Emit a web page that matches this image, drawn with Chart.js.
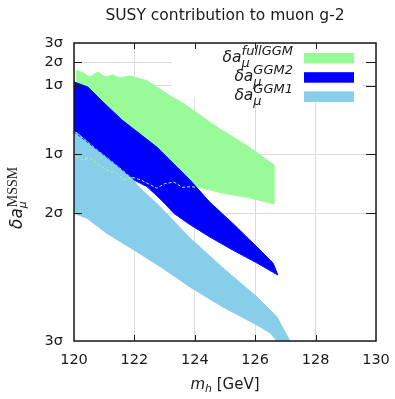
<!DOCTYPE html>
<html lang="en">
<head>
<meta charset="UTF-8">
<title>SUSY contribution to muon g-2</title>
<script src="https://cdn.jsdelivr.net/npm/chart.js"></script>
<style>
    html, body { margin: 0; padding: 0; background: #fff; }
</style>
</head>
<body>
<canvas id="g2Chart" width="395" height="399"></canvas>
<script>
// axes: m_h in GeV, delta a_mu in units of 1e-10 on a log axis (sigma marks at 28 +- k*8)
const mhTicks = [120, 122, 124, 126, 128, 130];
const sigmaTickValues = [4, 12, 20, 36, 44, 52];
const sigmaTickLabels = ['3σ', '2σ', '1σ', '1σ', '2σ', '3σ'];

// fullGGM band
const fullUpperMh = [120.07, 120.3, 120.53, 120.79, 121.03, 121.29, 121.52, 121.85, 122.42, 123.18, 123.6, 124.74, 125.83, 126.65];
const fullUpperDa = [41.2, 40.2, 38.8, 40.5, 38.8, 39.5, 38.5, 39.2, 37.6, 33.0, 31.0, 25.2, 21.1, 18.1];
const fullLowerMh = [120.07, 120.3, 120.56, 120.8, 121.09, 121.4, 121.66, 121.9, 122.22, 122.5, 122.75, 123.0, 123.31, 123.6, 123.87, 124.27, 124.93, 125.83, 126.65];
const fullLowerDa = [19.6, 19.0, 19.3, 18.3, 17.4, 17.0, 16.0, 16.4, 16.0, 15.4, 14.9, 15.5, 15.7, 15.0, 15.1, 14.9, 14.3, 13.7, 13.0];

// GGM2 band
const ggm2UpperMh = [120.0, 120.46, 120.96, 121.59, 122.75, 123.84, 124.5, 125.26, 126.06, 126.59, 126.75];
const ggm2UpperDa = [37.2, 35.6, 31.3, 26.8, 21.2, 16.0, 13.2, 11.0, 8.98, 7.83, 7.06];
const ggm2LowerMh = [120.0, 120.66, 121.32, 121.99, 122.42, 122.88, 123.31, 123.84, 124.5, 125.26, 126.06, 126.75];
const ggm2LowerDa = [24.2, 21.2, 18.5, 16.0, 15.1, 13.5, 12.0, 10.9, 9.79, 8.75, 7.83, 7.06];

// GGM1 band
const ggm1UpperMh = [120.0, 120.1, 120.66, 121.32, 121.99, 122.09, 122.85, 123.84, 124.93, 126.06, 126.72, 127.2];
const ggm1UpperDa = [24.2, 24.0, 21.2, 18.5, 16.0, 15.3, 12.7, 9.71, 7.5, 5.84, 4.92, 3.9];
const ggm1LowerMh = [120.0, 120.43, 121.09, 121.99, 122.88, 123.84, 124.93, 126.06, 126.49, 126.72, 127.2];
const ggm1LowerDa = [12.0, 11.5, 10.1, 8.75, 7.56, 6.37, 5.36, 4.59, 4.29, 4.0, 3.5];

const seriesNames = ['fullGGM', 'GGM2', 'GGM1'];
const seriesColors = ['#98fb98', '#0000ff', '#87ceeb'];

function pts(xs, ys) {
    return xs.map((x, i) => ({ x: x, y: ys[i] }));
}

function band(xs, ys, color, fill, order) {
    return {
        data: pts(xs, ys),
        borderColor: color,
        backgroundColor: color,
        borderWidth: 1,
        pointRadius: 0,
        tension: 0,
        fill: fill,
        order: order
    };
}

function edge(xs, ys, color) {
    return {
        data: pts(xs, ys),
        borderColor: color,
        borderWidth: 1,
        borderDash: [3, 2],
        pointRadius: 0,
        tension: 0,
        fill: false,
        order: 1
    };
}

// italic "δa" with sub mu and a superscript tag
function drawDelta(ctx, x, y, tag, mainSize, supSize, alignRight) {
    ctx.font = 'italic ' + supSize + 'px "DejaVu Sans"';
    const supW = ctx.measureText(tag).width;
    ctx.font = 'italic ' + mainSize + 'px "DejaVu Sans"';
    const mainW = ctx.measureText('δa').width;
    const x0 = alignRight ? x - supW - mainW : x;
    ctx.fillText('δa', x0, y);
    ctx.font = 'italic ' + supSize + 'px "DejaVu Sans"';
    ctx.fillText('μ', x0 + mainW, y + 5);
    ctx.fillText(tag, x0 + mainW, y - 7);
}

const frameAndText = {
    id: 'frameAndText',
    beforeDatasetsDraw(chart) {
        // opaque legend area
        const ctx = chart.ctx;
        ctx.save();
        ctx.fillStyle = '#fff';
        ctx.fillRect(172, 44, 190, 53);
        ctx.restore();
    },
    afterDatasetsDraw(chart) {
        const ctx = chart.ctx;
        const a = chart.chartArea;
        const xs = chart.scales.x, ys = chart.scales.y;
        ctx.save();
        ctx.strokeStyle = '#1a1a1a';
        ctx.lineWidth = 1;
        ctx.beginPath();
        mhTicks.slice(1, -1).forEach(v => {
            const px = Math.round(xs.getPixelForValue(v)) + 0.5;
            ctx.moveTo(px, a.bottom); ctx.lineTo(px, a.bottom - 6);
            ctx.moveTo(px, a.top); ctx.lineTo(px, a.top + 6);
        });
        sigmaTickValues.slice(1, -1).forEach(v => {
            const py = Math.round(ys.getPixelForValue(v)) + 0.5;
            ctx.moveTo(a.left, py); ctx.lineTo(a.left + 8, py);
            ctx.moveTo(a.right, py); ctx.lineTo(a.right - 10, py);
        });
        ctx.stroke();
        ctx.lineWidth = 1.5;
        ctx.strokeRect(a.left, a.top, a.right - a.left, a.bottom - a.top);
        ctx.restore();
    },
    afterDraw(chart) {
        const ctx = chart.ctx;
        const a = chart.chartArea;
        ctx.save();
        ctx.fillStyle = '#1a1a1a';
        ctx.textBaseline = 'alphabetic';

        // title
        ctx.font = '15.5px "DejaVu Sans"';
        ctx.textAlign = 'center';
        ctx.fillText('SUSY contribution to muon g-2', (a.left + a.right) / 2, 20);

        // x title: m_h [GeV]
        ctx.textAlign = 'left';
        ctx.font = 'italic 15px "DejaVu Sans"';
        const mW = ctx.measureText('m').width;
        ctx.font = 'italic 11px "DejaVu Sans"';
        const hW = ctx.measureText('h').width;
        ctx.font = '15px "DejaVu Sans"';
        const gW = ctx.measureText(' [GeV]').width;
        const x0 = (a.left + a.right) / 2 - (mW + hW + gW) / 2;
        ctx.font = 'italic 15px "DejaVu Sans"';
        ctx.fillText('m', x0, 389);
        ctx.font = 'italic 11px "DejaVu Sans"';
        ctx.fillText('h', x0 + mW, 392);
        ctx.font = '15px "DejaVu Sans"';
        ctx.fillText(' [GeV]', x0 + mW + hW, 389);

        // y title: δa_μ^MSSM rotated
        ctx.save();
        ctx.translate(22, 229);
        ctx.rotate(-Math.PI / 2);
        ctx.font = 'italic 17px "DejaVu Sans"';
        const dW = ctx.measureText('δa').width;
        ctx.fillText('δa', 0, 0);
        ctx.font = 'italic 11px "DejaVu Sans"';
        ctx.fillText('μ', dW, 4);
        ctx.font = '14px "Liberation Serif"';
        ctx.fillText('MSSM', dW + 1, -5);
        ctx.restore();

        // legend
        seriesNames.forEach((name, i) => {
            const cy = 58 + i * 19.2;
            drawDelta(ctx, 293, cy + 4, name, 15.5, 13, true);
            ctx.fillStyle = seriesColors[i];
            ctx.fillRect(304, cy - 5, 50, 10.5);
            ctx.fillStyle = '#1a1a1a';
        });
        ctx.restore();
    }
};

Chart.defaults.font.family = '"DejaVu Sans", sans-serif';
Chart.defaults.color = '#1a1a1a';

new Chart(document.getElementById('g2Chart'), {
    type: 'line',
    data: {
        datasets: [
            band(fullUpperMh, fullUpperDa, seriesColors[0], '+1', 6),
            band(fullLowerMh, fullLowerDa, seriesColors[0], false, 6),
            band(ggm2UpperMh, ggm2UpperDa, seriesColors[1], '+1', 5),
            band(ggm2LowerMh, ggm2LowerDa, seriesColors[1], false, 5),
            band(ggm1UpperMh, ggm1UpperDa, seriesColors[2], '+1', 4),
            band(ggm1LowerMh, ggm1LowerDa, seriesColors[2], false, 4),
            edge(fullLowerMh, fullLowerDa, '#b4f5a0'),
            edge(ggm2LowerMh, ggm2LowerDa, '#2020ff')
        ]
    },
    options: {
        responsive: false,
        animation: false,
        devicePixelRatio: 1,
        layout: { padding: { left: 0, right: 19, top: 43, bottom: 0 } },
        plugins: {
            legend: { display: false },
            tooltip: { enabled: false },
            title: { display: false }
        },
        scales: {
            x: {
                type: 'linear',
                min: 120,
                max: 130,
                afterBuildTicks: axis => { axis.ticks = mhTicks.map(v => ({ value: v })); },
                afterFit: scale => {
                    scale.height = 58;
                    scale.paddingLeft = 0;
                    scale.paddingRight = 0;
                },
                ticks: { autoSkip: false, maxRotation: 0, padding: 11, font: { size: 14.5 }, color: '#1a1a1a' },
                grid: { color: '#dcdcdc', lineWidth: 1, drawTicks: false },
                border: { display: false }
            },
            y: {
                type: 'logarithmic',
                min: 4,
                max: 52,
                afterBuildTicks: axis => { axis.ticks = sigmaTickValues.map(v => ({ value: v })); },
                afterFit: scale => {
                    scale.width = 74;
                    scale.paddingTop = 0;
                    scale.paddingBottom = 0;
                },
                ticks: {
                    autoSkip: false,
                    padding: 11,
                    font: { size: 14.5 },
                    color: '#1a1a1a',
                    callback: (v, i) => sigmaTickLabels[i]
                },
                grid: { color: '#dcdcdc', lineWidth: 1, drawTicks: false },
                border: { display: false }
            }
        }
    },
    plugins: [frameAndText]
});
</script>
</body>
</html>
